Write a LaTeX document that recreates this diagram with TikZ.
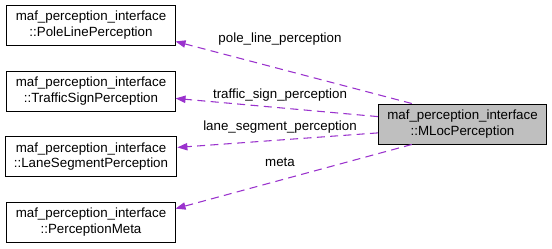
\documentclass[tikz,border=0pt]{standalone}
\usepackage{fontspec}
\setmainfont{Liberation Sans}
\usetikzlibrary{arrows.meta}
\definecolor{usepurple}{HTML}{9A32CD}
\definecolor{mainfill}{HTML}{BFBFBF}

\begin{document}
\begin{tikzpicture}[x=0.75pt,y=-0.75pt,
  cls/.style={draw=black, line width=0.75pt, align=center, minimum height=30pt,
    inner xsep=6.6pt, font=\fontsize{10}{11.5}\selectfont},
  usage/.style={draw=usepurple, line width=0.8pt, dash pattern=on 6pt off 4pt,
    -{Triangle[length=7.5pt,width=5.5pt,fill=usepurple]}},
  lbl/.style={font=\fontsize{10}{12}\selectfont, inner sep=0pt}]
\useasboundingbox (0,0) rectangle (552,248);
% member classes on the left
\node[cls] (pole) at (91,25) {maf\_perception\_interface\\::PoleLinePerception};
\node[cls] (sign) at (91,91) {maf\_perception\_interface\\::TrafficSignPerception};
\node[cls] (lane) at (91,156.5) {maf\_perception\_interface\\::LaneSegmentPerception};
\node[cls] (meta) at (91,222) {maf\_perception\_interface\\::PerceptionMeta};
% the class itself
\node[cls, fill=mainfill] (mloc) at (462.5,124) {maf\_perception\_interface\\::MLocPerception};
% usage edges
\draw[usage] (mloc.158) -- (pole.-11);
\draw[usage] (mloc.175) -- (sign.-5);
\draw[usage] (mloc.186) -- (lane.6);
\draw[usage] (mloc.202) -- (meta.9);
\node[lbl] (lpole) at (280,39) {pole\_line\_perception};
\node[lbl] (lsign) at (280,95) {traffic\_sign\_perception};
\node[lbl] (llane) at (280,127) {lane\_segment\_perception};
\node[lbl] (lmeta) at (280,162) {meta};
\end{tikzpicture}
\end{document}
